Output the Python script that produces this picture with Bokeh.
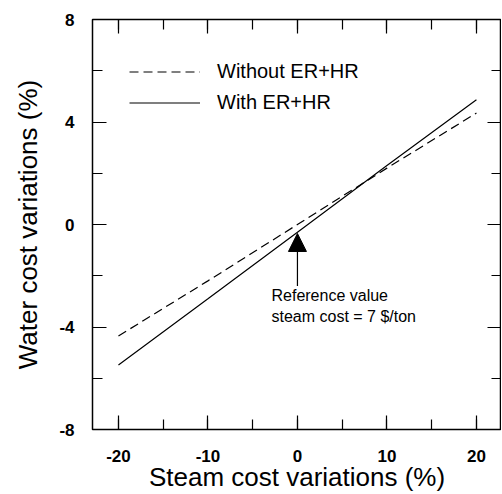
from bokeh.plotting import figure
from bokeh.models import (LinearAxis, Legend, LegendItem, Arrow, NormalHead, Label,
                          SingleIntervalTicker, Range1d)
from bokeh.embed import file_html
from bokeh.resources import INLINE

# data
steam_var = [-20, -10, 0, 10, 20]
without_er_hr = [-4.35, -2.2, 0.0, 2.2, 4.35]
with_er_hr = [-5.48, -2.9, -0.3, 2.3, 4.87]
x_ticks = [-20, -10, 0, 10, 20]
y_ticks = [-8, -4, 0, 4, 8]
ref_x = 0
ref_tip = -0.35
ref_tail = -2.4
ref_text = ["Reference value", "steam cost = 7 $/ton"]
x_title = "Steam cost variations (%)"
y_title = "Water cost variations (%)"

FONT = "Liberation Sans"

p = figure(width=501, height=494, output_backend="svg", toolbar_location=None,
           x_range=Range1d(-22.9, 22.8), y_range=Range1d(-8, 8),
           min_border_left=92, min_border_top=19, min_border_bottom=65, min_border_right=0)
p.grid.visible = False
p.outline_line_color = "black"
p.outline_line_width = 1.5

r1 = p.line(steam_var, without_er_hr, line_color="black", line_width=1.2, line_dash="9 5")
r2 = p.line(steam_var, with_er_hr, line_color="black", line_width=1.2)

def style(ax, labels=True):
    ax.axis_line_color = None
    ax.major_tick_in = 14
    ax.major_tick_out = 0
    ax.minor_tick_in = 10
    ax.minor_tick_out = 0
    ax.major_tick_line_color = "black"
    ax.minor_tick_line_color = "black"
    ax.major_tick_line_width = 1.2
    ax.minor_tick_line_width = 1.2
    if labels:
        ax.major_label_text_font = FONT
        ax.major_label_text_font_style = "bold"
        ax.major_label_text_font_size = "17px"
        ax.major_label_text_color = "black"
        ax.axis_label_text_font = FONT
        ax.axis_label_text_font_style = "normal"
        ax.axis_label_text_font_size = "26px"
        ax.axis_label_text_color = "black"
    else:
        ax.major_label_text_color = None
        ax.major_label_standoff = 0

p.xaxis.ticker = SingleIntervalTicker(interval=10, num_minor_ticks=2)
p.yaxis.ticker = SingleIntervalTicker(interval=4, num_minor_ticks=2)
style(p.xaxis[0])
style(p.yaxis[0])
p.xaxis.major_label_overrides = {v: str(v) for v in x_ticks}
p.yaxis.major_label_overrides = {v: str(v) for v in y_ticks}
p.xaxis.axis_label = x_title
p.yaxis.axis_label = y_title
p.xaxis.major_label_standoff = 20
p.xaxis.axis_label_standoff = -3
p.yaxis.major_label_standoff = 18
p.yaxis.axis_label_standoff = 13

top = LinearAxis(ticker=SingleIntervalTicker(interval=10, num_minor_ticks=2))
right = LinearAxis(ticker=SingleIntervalTicker(interval=4, num_minor_ticks=2))
style(top, labels=False)
style(right, labels=False)
p.add_layout(top, "above")
p.add_layout(right, "right")

legend = Legend(items=[LegendItem(label="Without ER+HR", renderers=[r1]),
                       LegendItem(label="With ER+HR", renderers=[r2])],
                location=(37, 314), padding=0, margin=0, spacing=6,
                glyph_width=71, glyph_height=25, label_height=25, label_standoff=17,
                border_line_color=None, background_fill_alpha=0,
                label_text_font=FONT, label_text_font_size="20px", label_text_color="black")
p.add_layout(legend)

p.add_layout(Arrow(end=NormalHead(size=18, fill_color="black", line_color="black"),
                   x_start=ref_x, y_start=ref_tail, x_end=ref_x, y_end=ref_tip,
                   line_color="black", line_width=1.2))

for i, t in enumerate(ref_text):
    p.add_layout(Label(x=-2.9, y=-2.77 - 0.82 * i, text=t, text_font=FONT,
                       text_font_size="16px", text_baseline="middle", text_color="black"))

open("out.html", "w").write(file_html(p, INLINE))
